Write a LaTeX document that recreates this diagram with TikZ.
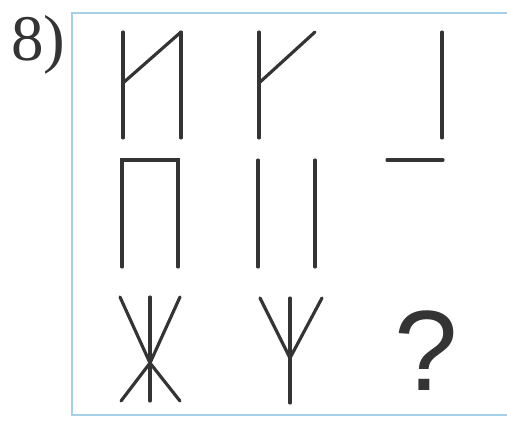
\documentclass[tikz,border=0pt]{standalone}
\usepackage{fontspec}
\setmainfont{Liberation Serif}
\newfontfamily\qfont{Liberation Sans}
\usetikzlibrary{positioning}
\definecolor{frameblue}{RGB}{165,208,230}
\definecolor{ink}{RGB}{52,52,52}

\begin{document}
\begin{tikzpicture}[x=0.02cm,y=-0.02cm,line cap=round,line join=miter,
  stroke/.style={ink,line width=1.8pt},
  boxline/.style={frameblue,line width=1.4pt}]
  \useasboundingbox (0,0) rectangle (507,423);
  \node[anchor=base west,inner sep=0pt,font=\fontsize{37}{40}\selectfont,text=ink] (num) at (11,60) {8)};
  \draw[boxline] (507,13) -- (72,13) -- (72,415) -- (507,415);
  % row 1
  \draw[stroke] (123,32) -- (123,138);
  \draw[stroke] (181,32) -- (181,138);
  \draw[stroke] (123,83) -- (181,32);
  \draw[stroke] (259,32) -- (259,138);
  \draw[stroke] (259,83) -- (315,32);
  \draw[stroke] (442,32) -- (442,138);
  % row 2
  \draw[stroke] (122,267) -- (122,160) -- (178,160) -- (178,267);
  \draw[stroke] (258,160) -- (258,267);
  \draw[stroke] (315,160) -- (315,267);
  \draw[stroke] (387,160) -- (443,160);
  % row 3
  \draw[stroke] (150,297) -- (150,401);
  \draw[stroke] (120,297) -- (150,363) -- (180,297);
  \draw[stroke] (121,401) -- (150,363) -- (180,401);
  \draw[stroke] (290,298) -- (290,403);
  \draw[stroke] (260,298) -- (290,358) -- (322,298);
  \node[anchor=base,inner sep=0pt,font=\qfont\fontsize{65}{68}\selectfont,text=ink] (ask) at (426,390) {?};
\end{tikzpicture}
\end{document}
